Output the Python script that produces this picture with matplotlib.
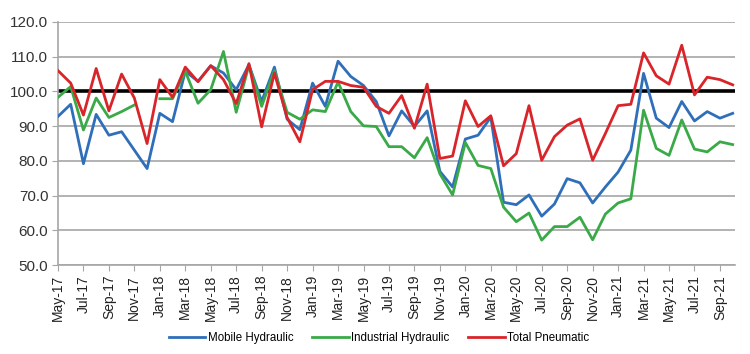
import numpy as np
import matplotlib
matplotlib.use("Agg")
import matplotlib.pyplot as plt

months = ["May-17","Jun-17","Jul-17","Aug-17","Sep-17","Oct-17","Nov-17","Dec-17",
          "Jan-18","Feb-18","Mar-18","Apr-18","May-18","Jun-18","Jul-18","Aug-18",
          "Sep-18","Oct-18","Nov-18","Dec-18","Jan-19","Feb-19","Mar-19","Apr-19",
          "May-19","Jun-19","Jul-19","Aug-19","Sep-19","Oct-19","Nov-19","Dec-19",
          "Jan-20","Feb-20","Mar-20","Apr-20","May-20","Jun-20","Jul-20","Aug-20",
          "Sep-20","Oct-20","Nov-20","Dec-20","Jan-21","Feb-21","Mar-21","Apr-21",
          "May-21","Jun-21","Jul-21","Aug-21","Sep-21","Oct-21"]

mobile_hydraulic = [92.8, 96.3, 79.2, 93.4, 87.4, 88.4, 83.1, 77.8, 93.7, 91.3,
                    105.8, 102.9, 107.4, 105.3, 100.5, 107.7, 97.1, 107.0, 92.0, 89.0,
                    102.4, 95.7, 108.7, 104.3, 101.7, 97.1, 87.2, 94.4, 89.9, 94.4,
                    77.0, 72.5, 86.3, 87.4, 92.6, 68.1, 67.4, 70.2, 64.1, 67.6,
                    74.9, 73.7, 67.9, 72.5, 76.8, 83.1, 105.2, 92.3, 89.6, 97.1,
                    91.5, 94.2, 92.3, 93.7]

industrial_hydraulic = [98.3, 101.4, 88.9, 98.1, 92.5, 94.2, 96.1, np.nan, 97.9, 97.9,
                        105.8, 96.6, 100.5, 111.5, 94.0, 107.5, 95.7, 106.0, 94.0, 92.0,
                        94.7, 94.2, 102.7, 94.2, 90.1, 89.9, 84.1, 84.1, 80.9, 86.7,
                        76.3, 70.2, 85.3, 78.7, 77.8, 66.7, 62.5, 65.0, 57.2, 61.1,
                        61.1, 63.8, 57.3, 64.7, 67.9, 69.1, 94.6, 83.6, 81.6, 91.8,
                        83.4, 82.6, 85.5, 84.7]

total_pneumatic = [106.0, 102.4, 93.2, 106.6, 94.4, 105.0, 98.1, 85.0, 103.4, 98.3,
                   107.0, 102.8, 107.4, 103.4, 96.5, 108.0, 89.8, 105.3, 92.5, 85.5,
                   100.5, 102.9, 102.9, 101.7, 101.2, 95.7, 93.7, 98.8, 89.4, 102.1,
                   80.7, 81.4, 97.3, 89.9, 93.0, 78.6, 82.1, 95.9, 80.2, 87.0,
                   90.3, 92.1, 80.2, 87.9, 95.9, 96.3, 111.1, 104.5, 102.1, 113.3,
                   99.0, 104.1, 103.4, 101.9]

series_names = ["Mobile Hydraulic", "Industrial Hydraulic", "Total Pneumatic"]
colors = ["#2f6fba", "#3aaa48", "#d9252a"]

plt.rcParams['font.family'] = ['Liberation Sans', 'DejaVu Sans']

fig = plt.figure(figsize=(7.5, 3.54), dpi=100)
ax = fig.add_axes([0.0773, 0.251, 0.903, 0.687])

x = np.arange(len(months))
for vals, name, c in zip([mobile_hydraulic, industrial_hydraulic, total_pneumatic],
                         series_names, colors):
    ax.plot(x, vals, color=c, lw=2.0, label=name, zorder=3)

ax.axhline(100, color="black", lw=2.6, zorder=2)

ax.set_ylim(50, 120)
ax.set_yticks(np.arange(50, 121, 10))
ax.set_yticklabels([f"{v:.1f}" for v in np.arange(50, 121, 10)], fontsize=11, color="#333333")
ax.yaxis.grid(True, color="#a6a6a6", lw=1.2, zorder=0)
ax.set_axisbelow(True)

ax.set_xlim(0, len(months) - 0.8)
ax.set_xticks(x[::2])
ax.set_xticklabels(months[::2], rotation=90, fontsize=10, color="#222222")
ax.set_xticks(x, minor=True)

for s in ["top", "right"]:
    ax.spines[s].set_visible(False)
ax.spines["left"].set_color("#a6a6a6")
ax.spines["bottom"].set_color("#a6a6a6")
ax.spines["left"].set_linewidth(1.2)
ax.spines["bottom"].set_linewidth(1.2)
ax.tick_params(axis="y", length=4, color="#a6a6a6", pad=3)
ax.tick_params(axis="x", which="major", length=4, color="#a6a6a6", pad=3)
ax.tick_params(axis="x", which="minor", length=0)

handles, labels = ax.get_legend_handles_labels()
fig.legend(handles, labels, loc="center", bbox_to_anchor=(0.505, 0.045), ncol=3,
           frameon=False, fontsize=8.3, handlelength=3.2, columnspacing=1.6,
           handletextpad=0.2)

fig.savefig("out.png", dpi=100)
